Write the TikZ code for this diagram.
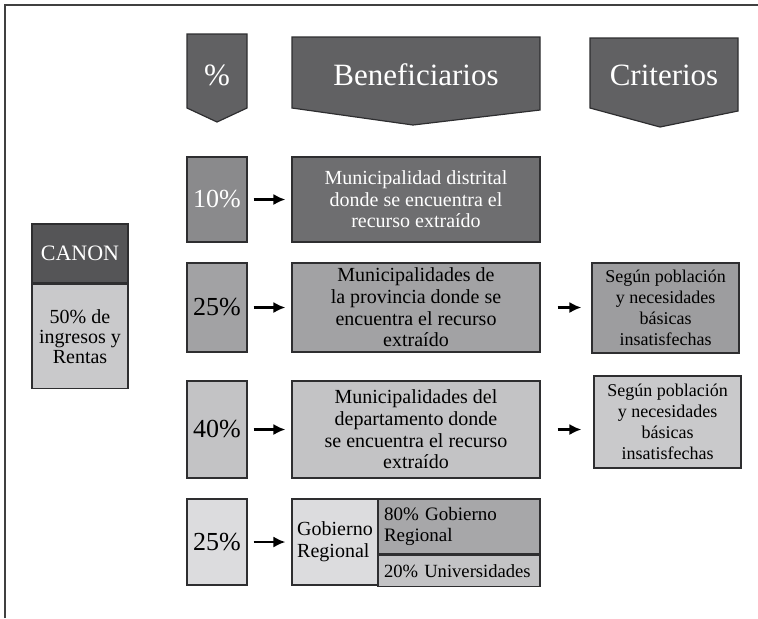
\documentclass[tikz,border=0pt]{standalone}
\usepackage{fontspec}
\setmainfont{Liberation Serif}
\usetikzlibrary{arrows.meta,positioning}

\definecolor{headgray}{HTML}{616163}
\definecolor{rowone}{HTML}{6E6E70}
\definecolor{rowonepct}{HTML}{8A8A8C}
\definecolor{rowtwo}{HTML}{A2A2A4}
\definecolor{rowthree}{HTML}{C3C3C5}
\definecolor{rowfour}{HTML}{DCDCDE}
\definecolor{canondark}{HTML}{555557}
\definecolor{canonlight}{HTML}{C9C9CB}
\definecolor{edgegray}{HTML}{2E2E30}

\begin{document}
\begin{tikzpicture}[x=0.5pt, y=-0.5pt,
	cell/.style={draw=edgegray, line width=0.6pt, inner sep=0pt, align=center,
		font=\fontsize{10}{10.8}\selectfont, text=black},
	pctcell/.style={cell, minimum width=30pt, font=\fontsize{13}{15}\selectfont},
	bencell/.style={cell, minimum width=124pt},
	critcell/.style={cell, minimum width=73.5pt, font=\fontsize{9}{10.5}\selectfont},
	headshape/.style={draw=edgegray, line width=0.6pt, fill=headgray},
	headlabel/.style={text=white, font=\fontsize{15.5}{17}\selectfont},
	link/.style={-{Latex[length=6pt,width=5.6pt]}, line width=1.3pt, black}]
	
	\useasboundingbox (0,0) rectangle (758,618);
	
	% ----- frame
	\draw[black!75, line width=0.7pt] (5,618) -- (5,5) -- (758,5);
	
	% ----- headers
	\draw[headshape] (187,34) -- (247,34) -- (247,108) -- (217,122) -- (187,108) -- cycle;
	\node[headlabel] (hpct) at (217,75) {\%};
	
	\draw[headshape] (292,37) -- (540,37) -- (540,110) -- (413,125) -- (292,108) -- cycle;
	\node[headlabel] (hben) at (416,75) {Beneficiarios};
	
	\draw[headshape] (590,38) -- (738,38) -- (738,111) -- (660,127) -- (590,108) -- cycle;
	\node[headlabel] (hcrit) at (664,75) {Criterios};
	
	% ----- left: canon
	\node[cell, fill=canondark, text=white, minimum width=48pt, minimum height=29.5pt,
		font=\fontsize{11}{12}\selectfont] (canon) at (80,253.5) {CANON};
	\node[cell, fill=canonlight, minimum width=48pt, minimum height=52pt,
		font=\fontsize{10}{10}\selectfont, below=0pt of canon] (rentas) {50\% de\\ingresos y\\Rentas};
	
	% ----- row 1
	\node[pctcell, fill=rowonepct, text=white, minimum height=42.5pt] (p1) at (217,199.5) {10\%};
	\node[bencell, fill=rowone, text=white, minimum height=42.5pt] (b1) at (416,199.5)
	{Municipalidad distrital\\donde se encuentra el\\recurso extraído};
	\draw[link, shorten <=3pt, shorten >=3pt] (p1) -- (b1);
	
	% ----- row 2
	\node[pctcell, fill=rowtwo, minimum height=44.5pt] (p2) at (217,307.5) {25\%};
	\node[bencell, fill=rowtwo, minimum height=44.5pt] (b2) at (416,307.5)
	{Municipalidades de\\la provincia donde se\\encuentra el recurso\\extraído};
	\node[critcell, fill=rowtwo!97!black, minimum height=45pt] (c2) at (665.5,308)
	{Según población\\y necesidades\\básicas\\insatisfechas};
	\draw[link, shorten <=3pt, shorten >=3pt] (p2) -- (b2);
	\draw[link, shorten <=8.5pt, shorten >=5pt] (b2.east) -- (b2.east -| c2.west);
	
	% ----- row 3
	\node[pctcell, fill=rowthree, minimum height=48.5pt] (p3) at (217,429.5) {40\%};
	\node[bencell, fill=rowthree, minimum height=48.5pt] (b3) at (416,429.5)
	{Municipalidades del\\departamento donde\\se encuentra el recurso\\extraído};
	\node[critcell, fill=canonlight, minimum height=46pt] (c3) at (667.5,422)
	{Según población\\y necesidades\\básicas\\insatisfechas};
	\draw[link, shorten <=3pt, shorten >=3pt] (p3) -- (b3);
	\draw[link, shorten <=8.5pt, shorten >=6pt] (b3.east) -- (b3.east -| c3.west);
	
	% ----- row 4
	\node[pctcell, fill=rowfour, minimum height=43pt] (p4) at (217,542) {25\%};
	\node[cell, fill=rowfour, minimum width=43pt, minimum height=43pt, align=left,
		font=\fontsize{10}{11}\selectfont] (gob) at (335,542) {Gobierno\\Regional};
	\node[cell, fill=rowtwo!95!white, minimum height=27.5pt, text width=75pt, inner xsep=3pt,
		align=left, font=\fontsize{9.5}{10.7}\selectfont] (gob80) at (459,526.5) {80\% Gobierno\\Regional};
	\node[cell, fill=rowthree, minimum height=15.5pt, text width=75pt, inner xsep=3pt,
		align=left, font=\fontsize{9.3}{10.5}\selectfont, below=0pt of gob80] (uni20) {20\% Universidades};
	\draw[link, shorten <=3pt, shorten >=3pt] (p4) -- (gob);
	
\end{tikzpicture}
\end{document}
